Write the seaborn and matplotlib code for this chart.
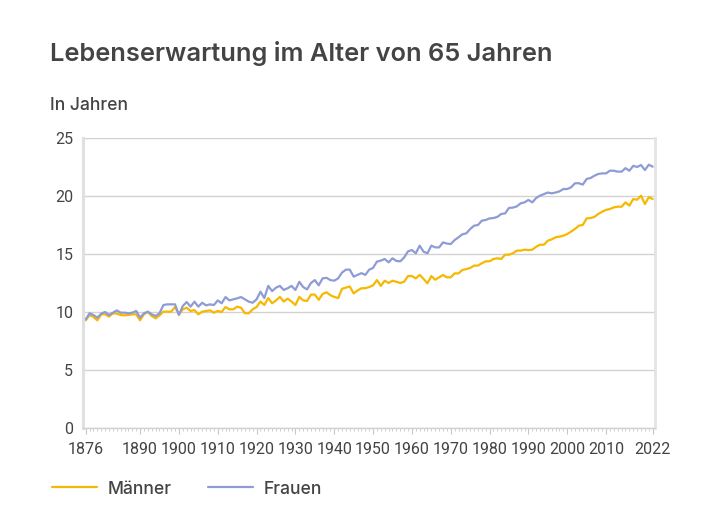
import numpy as np
import pandas as pd
import matplotlib
matplotlib.use("Agg")
import matplotlib.pyplot as plt
from matplotlib.lines import Line2D
from matplotlib.ticker import MultipleLocator, FixedLocator
import seaborn as sns

years = list(range(1876, 2023))

maenner = [
    9.28, 9.74, 9.57, 9.28, 9.80, 9.80, 9.60, 9.89, 9.86, 9.74,   # 1876-1885
    9.71, 9.74, 9.80, 9.80, 9.28, 9.80, 10.00, 9.66, 9.45, 9.71,  # 1886-1895
    10.03, 10.03, 10.03, 10.43, 9.80, 10.23, 10.37, 10.09, 10.17, 9.80,  # 1896-1905
    10.03, 10.09, 10.14, 9.94, 10.09, 10.00, 10.43, 10.23, 10.23, 10.46,  # 1906-1915
    10.37, 9.89, 9.89, 10.23, 10.43, 10.90, 10.60, 11.20, 10.75, 11.00,  # 1916-1925
    11.30, 10.90, 11.15, 10.90, 10.60, 11.30, 11.00, 10.95, 11.50, 11.50,  # 1926-1935
    11.05, 11.55, 11.70, 11.45, 11.30, 11.20, 12.00, 12.10, 12.20, 11.60,  # 1936-1945
    11.85, 12.05, 12.05, 12.15, 12.30, 12.75, 12.25, 12.70, 12.50, 12.70,  # 1946-1955
    12.60, 12.50, 12.61, 13.10, 13.10, 12.90, 13.20, 12.85, 12.47, 13.10,  # 1956-1965
    12.78, 12.99, 13.19, 12.99, 12.99, 13.33, 13.33, 13.62, 13.70, 13.79,  # 1966-1975
    14.00, 14.00, 14.20, 14.37, 14.37, 14.57, 14.63, 14.57, 14.94, 14.94,  # 1976-1985
    15.06, 15.29, 15.29, 15.37, 15.34, 15.37, 15.63, 15.80, 15.80, 16.15,  # 1986-1995
    16.26, 16.44, 16.50, 16.58, 16.72, 16.93, 17.16, 17.44, 17.50, 18.07,  # 1996-2005
    18.10, 18.20, 18.45, 18.65, 18.80, 18.88, 19.02, 19.08, 19.08, 19.45,  # 2006-2015
    19.17, 19.74, 19.68, 20.03, 19.31, 19.89, 19.74,                       # 2016-2022
]

frauen = [
    9.37, 9.89, 9.74, 9.51, 9.86, 10.00, 9.74, 9.94, 10.14, 9.94,  # 1876-1885
    9.94, 9.89, 9.94, 10.09, 9.51, 9.89, 10.03, 9.80, 9.66, 9.89,  # 1886-1895
    10.60, 10.66, 10.66, 10.66, 9.74, 10.52, 10.86, 10.46, 10.89, 10.46,  # 1896-1905
    10.80, 10.57, 10.66, 10.60, 11.00, 10.75, 11.29, 11.00, 11.09, 11.18,  # 1906-1915
    11.29, 11.09, 10.89, 10.80, 11.09, 11.75, 11.20, 12.25, 11.80, 12.10,  # 1916-1925
    12.25, 11.90, 12.05, 12.25, 11.90, 12.60, 12.15, 11.95, 12.50, 12.75,  # 1926-1935
    12.30, 12.90, 12.95, 12.75, 12.70, 12.90, 13.40, 13.65, 13.65, 13.05,  # 1936-1945
    13.20, 13.35, 13.20, 13.65, 13.80, 14.35, 14.43, 14.57, 14.28, 14.63,  # 1946-1955
    14.40, 14.37, 14.70, 15.23, 15.34, 15.06, 15.72, 15.20, 15.06, 15.72,  # 1956-1965
    15.57, 15.57, 16.00, 15.90, 15.86, 16.20, 16.44, 16.70, 16.78, 17.15,  # 1966-1975
    17.44, 17.50, 17.87, 17.93, 18.07, 18.10, 18.20, 18.45, 18.50, 18.97,  # 1976-1985
    19.00, 19.10, 19.37, 19.45, 19.66, 19.45, 19.83, 20.03, 20.17, 20.30,  # 1986-1995
    20.23, 20.30, 20.40, 20.60, 20.60, 20.75, 21.10, 21.10, 20.98, 21.47,  # 1996-2005
    21.55, 21.75, 21.90, 21.95, 21.95, 22.18, 22.18, 22.10, 22.10, 22.40,  # 2006-2015
    22.18, 22.60, 22.50, 22.67, 22.24, 22.70, 22.53,                       # 2016-2022
]

series_names = ["Männer", "Frauen"]
colors = ["#F7B801", "#8E9CD6"]
x_ticks = [1876, 1890, 1900, 1910, 1920, 1930, 1940, 1950, 1960, 1970, 1980, 1990, 2000, 2010, 2022]
y_ticks = [0, 5, 10, 15, 20, 25]

title = "Lebenserwartung im Alter von 65 Jahren"
y_title = "In Jahren"

df = pd.DataFrame({
    "Jahr": years * 2,
    "Wert": maenner + frauen,
    "Serie": [series_names[0]] * len(years) + [series_names[1]] * len(years),
})

sns.set_theme(style="white")
plt.rcParams["font.family"] = ["Inter", "DejaVu Sans"]

text_color = "#444444"
fig = plt.figure(figsize=(7.2, 5.3), dpi=100)
ax = fig.add_axes([83 / 720, 1 - 428 / 530, (655 - 83) / 720, (428 - 138) / 530])

sns.lineplot(data=df, x="Jahr", y="Wert", hue="Serie", palette=dict(zip(series_names, colors)),
             linewidth=1.6, ax=ax, legend=False)

ax.set_xlim(1875.3, 2022.6)
ax.set_ylim(0, 25)
ax.yaxis.set_major_locator(FixedLocator(y_ticks))
ax.xaxis.set_major_locator(FixedLocator(x_ticks))
ax.xaxis.set_minor_locator(MultipleLocator(1))
ax.set_xlabel("")
ax.set_ylabel("")

ax.grid(axis="y", color="#d2d2d2", linewidth=1.0)
ax.grid(axis="x", visible=False)
ax.set_axisbelow(True)

ax.spines["top"].set_visible(False)
ax.spines["left"].set_color("#e0e0e0")
ax.spines["left"].set_linewidth(2.2)
ax.spines["right"].set_color("#e4e4e4")
ax.spines["right"].set_linewidth(2.0)
ax.spines["bottom"].set_color("#d2d2d2")
ax.spines["bottom"].set_linewidth(1.0)

ax.tick_params(axis="y", length=0, pad=7, labelsize=11.5, labelcolor=text_color)
ax.tick_params(axis="x", which="major", length=4, width=0.8, color="#c8c8c8", pad=6,
               labelsize=11.5, labelcolor=text_color, bottom=True)
ax.tick_params(axis="x", which="minor", length=2.5, width=0.6, color="#c8c8c8", bottom=True)
for lbl in ax.get_xticklabels() + ax.get_yticklabels():
    lbl.set_fontfamily(["Roboto", "DejaVu Sans"])
    lbl.set_fontweight("normal")

fig.text(50 / 720, 1 - 53 / 530, title, fontsize=18.3, fontweight="semibold",
         color=text_color, va="center", ha="left")
fig.text(50 / 720, 1 - 106 / 530, y_title, fontsize=12.6, fontweight="medium",
         color=text_color, va="center", ha="left")

handles = [Line2D([0], [0], color=c, lw=1.6) for c in colors]
leg = fig.legend(handles, series_names, loc="center left",
                 bbox_to_anchor=(52 / 720, 1 - 489 / 530), ncol=2, frameon=False,
                 handlelength=2.55, handletextpad=0.62, columnspacing=2.1,
                 borderpad=0, borderaxespad=0,
                 prop={"family": ["Inter", "DejaVu Sans"], "size": 12.6, "weight": "medium"})
for t in leg.get_texts():
    t.set_color(text_color)

fig.savefig("out.png", dpi=100)
